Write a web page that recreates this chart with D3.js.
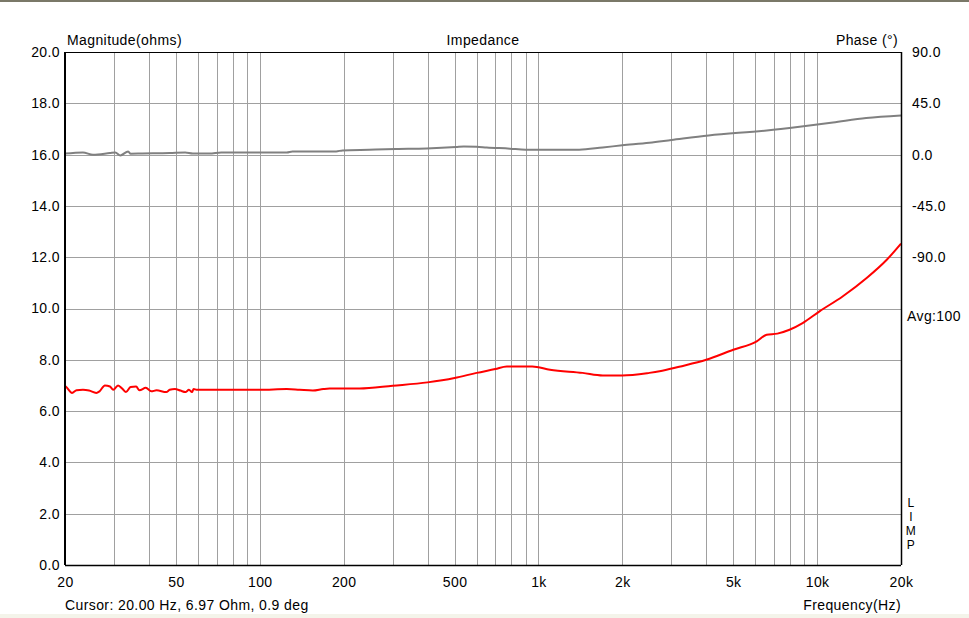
<!DOCTYPE html>
<html>
<head>
<meta charset="utf-8">
<script src="https://cdn.jsdelivr.net/npm/d3@7"></script>
<style>
  body { margin: 0; background: #ffffff; }
  text { font-family: "Liberation Sans", Arial, sans-serif; font-size: 14px; letter-spacing: 0.4px; fill: #000; }
</style>
</head>
<body>
<div id="impedance-chart"></div>
<script>
/*
Impedance magnitude + phase, log frequency
*/

var svgWidth = 969,
    svgHeight = 618;

var margin = {
    left: 65,
    right: 68,
    top: 52,
    bottom: 53
};

var width = svgWidth - margin["left"] - margin["right"],
    height = svgHeight - margin["top"] - margin["bottom"];

// Magnitude (ohms)
var magFreq = [20, 20.1, 21.2, 22.0, 23.2, 24.4, 25.9, 26.6, 27.8, 29.0, 29.8, 31.0, 32.2, 33.1, 34.4, 36.0, 37.0, 39.0,
    40.8, 42.6, 46.2, 47.5, 49.6, 51.9, 54.1, 55.7, 57.1, 57.9, 59.3, 100, 125, 139, 155, 169, 178, 228,
    300, 400, 500, 600, 700, 770, 950, 1100, 1440, 1700, 2000, 2500, 2720, 3200, 4000, 5000, 6070, 6590,
    7200, 7960, 8870, 10200, 12340, 15060, 17780, 20000];
var magValues = [6.97, 6.96, 6.71, 6.81, 6.83, 6.80, 6.71, 6.77, 7.00, 6.96, 6.83, 7.00, 6.86, 6.74, 6.94, 6.96, 6.81, 6.91,
    6.77, 6.81, 6.74, 6.83, 6.86, 6.80, 6.74, 6.83, 6.74, 6.86, 6.83, 6.83, 6.86, 6.83, 6.80, 6.86, 6.88, 6.88,
    6.99, 7.12, 7.29, 7.49, 7.64, 7.74, 7.74, 7.61, 7.49, 7.39, 7.39, 7.49, 7.55, 7.73, 8.00, 8.39, 8.72, 8.98,
    9.02, 9.17, 9.43, 9.89, 10.47, 11.19, 11.90, 12.53];

// Phase (deg)
var phaseFreq = [20, 23.2, 25.2, 29.0, 30.3, 31.6, 33.7, 34.4, 37.8, 47.5, 54, 57.5, 66, 72.7, 125, 131, 188, 198,
    247, 308, 397, 506, 540, 600, 652, 790, 900, 1400, 1700, 2000, 2500, 3000, 4080, 6600, 8650, 11400, 15000, 20000];
var phaseValues = [0.9, 1.9, -0.1, 1.4, 1.9, -0.7, 2.8, 0.8, 1.0, 1.4, 1.9, 1.0, 1.0, 1.9, 1.9, 2.8, 2.8, 3.7,
    4.3, 4.9, 5.4, 6.7, 7.2, 6.9, 6.3, 5.2, 4.3, 4.3, 6.3, 8.1, 10.4, 12.8, 16.8, 21.2, 24.5, 28.2, 32.1, 34.4];

// Grid and tick labels
var freqGrid = [20, 30, 40, 50, 60, 70, 80, 90, 100, 200, 300, 400, 500, 600, 700, 800, 900,
    1000, 2000, 3000, 4000, 5000, 6000, 7000, 8000, 9000, 10000, 20000];
var freqTicks = [20, 50, 100, 200, 500, 1000, 2000, 5000, 10000, 20000];
var freqTickLabels = ["20", "50", "100", "200", "500", "1k", "2k", "5k", "10k", "20k"];
var magTicks = [0, 2, 4, 6, 8, 10, 12, 14, 16, 18, 20];
var phaseTicks = [90, 45, 0, -45, -90];
var limpLetters = ["L", "I", "M", "P"];

// plain hyphen for negatives, like the original
var fmt1 = d => d.toFixed(1);

var svg = d3.select("#impedance-chart")
    .append("svg")
        .attr("width", svgWidth)
        .attr("height", svgHeight);

// window frame bits
svg.append("rect")
    .attr("x", 0).attr("y", 0)
    .attr("width", svgWidth).attr("height", 2)
    .attr("fill", "#7a7868");
svg.append("rect")
    .attr("x", 0).attr("y", 614)
    .attr("width", svgWidth).attr("height", 4)
    .attr("fill", "#f4f4ea");

var g = svg.append("g")
    .attr("transform", `translate(${margin["left"]}, ${margin["top"]})`);

// Scales
var x = d3.scaleLog()
    .domain([20, 20000])
    .range([0, width]);

var y = d3.scaleLinear()
    .domain([0, 20])
    .range([height, 0]);

// phase axis: 45 deg per 2 ohm division, bottom reaches -360
var yPhase = d3.scaleLinear()
    .domain([-360, 90])
    .range([height, 0]);

// Grid
g.append("g")
    .selectAll("line")
    .data(freqGrid)
    .enter().append("line")
        .attr("x1", d => Math.round(x(d)) + 0.5)
        .attr("x2", d => Math.round(x(d)) + 0.5)
        .attr("y1", 0)
        .attr("y2", height)
        .attr("stroke", "#a0a0a0")
        .attr("stroke-width", 1);

g.append("g")
    .selectAll("line")
    .data(magTicks)
    .enter().append("line")
        .attr("x1", 0)
        .attr("x2", width)
        .attr("y1", d => Math.round(y(d)) + 0.5)
        .attr("y2", d => Math.round(y(d)) + 0.5)
        .attr("stroke", "#a0a0a0")
        .attr("stroke-width", 1);

// Axes (labels only, no tick marks)
var xAxisCall = d3.axisBottom(x)
    .tickValues(freqTicks)
    .tickFormat((d, i) => freqTickLabels[i])
    .tickSize(0)
    .tickPadding(12);
var xAxisGroup = g.append("g")
    .attr("transform", `translate(0, ${height})`)
    .call(xAxisCall);

var yAxisCall = d3.axisLeft(y)
    .tickValues(magTicks)
    .tickFormat(fmt1)
    .tickSize(0)
    .tickPadding(5);
var yAxisGroup = g.append("g").call(yAxisCall);

var yPhaseCall = d3.axisRight(yPhase)
    .tickValues(phaseTicks)
    .tickFormat(fmt1)
    .tickSize(0)
    .tickPadding(11);
var yPhaseGroup = g.append("g")
    .attr("transform", `translate(${width}, 0)`)
    .call(yPhaseCall);

[xAxisGroup, yAxisGroup, yPhaseGroup].forEach(ax => {
    ax.select(".domain").remove();
    ax.selectAll("text")
        .attr("font-family", "Liberation Sans, Arial, sans-serif")
        .attr("font-size", "14px")
        .attr("fill", "#000");
});

// Curves
var magLine = d3.line()
    .x((d, i) => x(magFreq[i]))
    .y(d => y(d))
    .curve(d3.curveMonotoneX);

var phaseLine = d3.line()
    .x((d, i) => x(phaseFreq[i]))
    .y(d => yPhase(d))
    .curve(d3.curveMonotoneX);

g.append("path")
    .datum(phaseValues)
    .attr("d", phaseLine)
    .attr("fill", "none")
    .attr("stroke", "#808080")
    .attr("stroke-width", 2);

g.append("path")
    .datum(magValues)
    .attr("d", magLine)
    .attr("fill", "none")
    .attr("stroke", "#ff0000")
    .attr("stroke-width", 2);

// Plot frame
g.append("line").attr("x1", 0).attr("x2", width).attr("y1", 0.5).attr("y2", 0.5)
    .attr("stroke", "#000").attr("stroke-width", 1);
g.append("line").attr("x1", 0).attr("x2", width).attr("y1", height + 0.5).attr("y2", height + 0.5)
    .attr("stroke", "#000").attr("stroke-width", 1.5);
g.append("line").attr("x1", 0).attr("x2", 0).attr("y1", 0).attr("y2", height)
    .attr("stroke", "#000").attr("stroke-width", 2);
g.append("line").attr("x1", width + 0.5).attr("x2", width + 0.5).attr("y1", 0).attr("y2", height)
    .attr("stroke", "#000").attr("stroke-width", 1.5);

// Titles and labels
g.append("text")
    .attr("x", 2)
    .attr("y", -7)
    .text("Magnitude(ohms)");

g.append("text")
    .attr("x", width / 2)
    .attr("y", -7)
    .attr("text-anchor", "middle")
    .text("Impedance");

g.append("text")
    .attr("x", width - 3)
    .attr("y", -7)
    .attr("text-anchor", "end")
    .text("Phase (°)");

g.append("text")
    .attr("x", width + 6)
    .attr("y", y(10) + 12)
    .text("Avg:100");

g.append("g")
    .selectAll("text")
    .data(limpLetters)
    .enter().append("text")
        .attr("x", width + 10)
        .attr("y", (d, i) => height - 58 + i * 14)
        .attr("text-anchor", "middle")
        .style("font-size", "12px")
        .text(d => d);

g.append("text")
    .attr("x", 0)
    .attr("y", height + 45)
    .text("Cursor: 20.00 Hz, 6.97 Ohm, 0.9 deg");

g.append("text")
    .attr("x", width)
    .attr("y", height + 45)
    .attr("text-anchor", "end")
    .text("Frequency(Hz)");
</script>
</body>
</html>
